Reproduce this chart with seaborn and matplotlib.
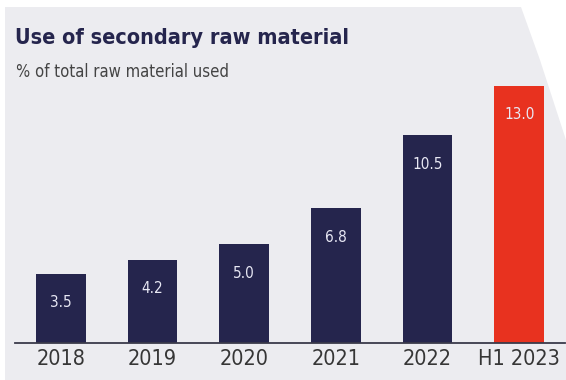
import matplotlib
matplotlib.use("Agg")
import matplotlib.pyplot as plt
import seaborn as sns
import pandas as pd
from matplotlib.patches import Polygon

categories = ["2018", "2019", "2020", "2021", "2022", "H1 2023"]
values = [3.5, 4.2, 5.0, 6.8, 10.5, 13.0]
value_labels = ["3.5", "4.2", "5.0", "6.8", "10.5", "13.0"]
colors = ["#25254d", "#25254d", "#25254d", "#25254d", "#25254d", "#e8321f"]

sns.set_style("white")
plt.rcParams["font.family"] = ["DejaVu Sans"]
plt.rcParams["font.stretch"] = "condensed"

df = pd.DataFrame({"cat": categories, "val": values})

W, H = 566, 380
fig = plt.figure(figsize=(W / 100, H / 100), dpi=100)
bg = "#ececf0"
fig.patch.set_facecolor("white")
pts = [(5, 380), (566, 380), (566, 140), (540, 60), (521, 7), (5, 7)]
fig.patches.append(Polygon([[x / W, 1 - y / H] for x, y in pts], closed=True,
                           transform=fig.transFigure, facecolor=bg,
                           edgecolor="none", zorder=-5))

ax = fig.add_axes([15 / W, 37 / H, 550 / W, 277 / H])
ax.set_facecolor("none")
sns.barplot(data=df, x="cat", y="val", hue="cat", palette=colors, legend=False,
            width=0.54, ax=ax, saturation=1, linewidth=0)
ax.set_xlim(-0.5, 5.5)
ax.set_ylim(0, 14)
ax.set_yticks([])
ax.set_ylabel("")
ax.set_xlabel("")
for s in ["top", "right", "left"]:
    ax.spines[s].set_visible(False)
ax.spines["bottom"].set_color("#3a3a4a")
ax.spines["bottom"].set_linewidth(1.3)
ax.tick_params(axis="x", length=0, pad=4, labelsize=15.5, labelcolor="#363636")

for i, (v, lab) in enumerate(zip(values, value_labels)):
    ax.annotate(lab, (i, v), xytext=(0, -29), textcoords="offset pixels",
                ha="center", va="center", color="#e8e8f4", fontsize=11)

fig.text(15 / W, 1 - 38 / H, "Use of secondary raw material", fontsize=15.5,
         fontweight="bold", color="#25254d", ha="left", va="center")
fig.text(16 / W, 1 - 72 / H, "% of total raw material used", fontsize=12,
         color="#444444", ha="left", va="center")

fig.savefig("out.png", dpi=100, facecolor=fig.get_facecolor())
